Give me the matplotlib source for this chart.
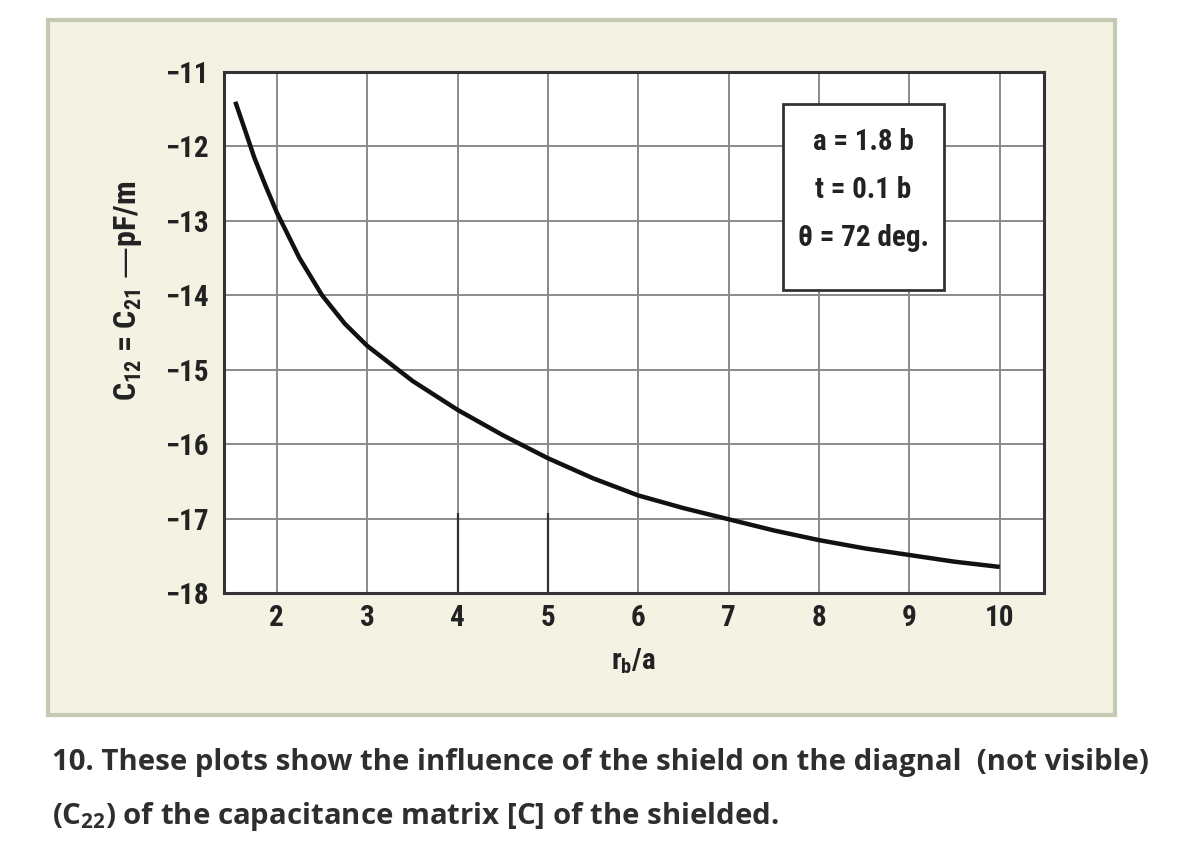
import matplotlib
matplotlib.use('Agg')
import matplotlib.pyplot as plt
from matplotlib.patches import Rectangle

# values
rb_over_a = [1.54, 1.65, 1.75, 1.875, 2.0, 2.25, 2.5, 2.75, 3.0, 3.5, 4.0, 4.5, 5.0, 5.5,
             6.0, 6.5, 7.0, 7.5, 8.0, 8.5, 9.0, 9.5, 10.0]
c12 = [-11.40, -11.79, -12.15, -12.53, -12.89, -13.50, -14.00, -14.38, -14.68, -15.15,
       -15.54, -15.88, -16.19, -16.46, -16.69, -16.86, -17.01, -17.16, -17.29, -17.40,
       -17.49, -17.58, -17.65]

x_ticks = [2, 3, 4, 5, 6, 7, 8, 9, 10]
y_ticks = [-18, -17, -16, -15, -14, -13, -12, -11]
dark_marks = [4, 5]

params = ['a = 1.8 b', 't = 0.1 b', '\u03b8 = 72 deg.']
caption = ['10. These plots show the influence of the shield on the diagnal  (not visible)',
           r'($\mathregular{C_{22}}$) of the capacitance matrix [C] of the shielded.']

plt.rcParams['font.family'] = ['Roboto Condensed', 'Liberation Sans Narrow', 'Roboto', 'DejaVu Sans']
plt.rcParams['mathtext.default'] = 'regular'

fig = plt.figure(figsize=(11.84, 8.64), dpi=100)
fig.patch.set_facecolor('white')

# beige panel behind the chart
fig.patches.append(Rectangle((0.0405, 0.1725), 0.9015, 0.8045, transform=fig.transFigure,
                             facecolor='#f3f2e3', edgecolor='#c3c9b3', linewidth=3, zorder=-5))

ax = fig.add_axes([0.1892, 0.3137, 0.6926, 0.603])
ax.set_facecolor('white')
ax.plot(rb_over_a, c12, color='#111111', linewidth=3.2, solid_capstyle='butt',
        solid_joinstyle='round', zorder=3)
ax.vlines(dark_marks, -18, -16.93, color='#333333', linewidth=1.6, zorder=2)

ax.set_xlim(1.415, 10.49)
ax.set_ylim(-18, -11)
ax.set_xticks(x_ticks)
ax.set_yticks(y_ticks)
ax.set_yticklabels(['\u2212%d' % abs(v) for v in y_ticks])
ax.grid(True, color='#8a8a8a', linewidth=1.4)
ax.set_axisbelow(True)
for s in ax.spines.values():
    s.set_color('#333333')
    s.set_linewidth(2.2)
ax.tick_params(length=0, labelsize=21, colors='#222222')
ax.tick_params(axis='y', pad=11)
ax.tick_params(axis='x', pad=8)
for lab in ax.get_xticklabels() + ax.get_yticklabels():
    lab.set_fontweight('semibold')

ax.set_xlabel(r'r$_\mathregular{b}$/a', fontsize=21, color='#222222', labelpad=10,
              fontweight='semibold')
ax.set_ylabel('C$_\\mathregular{12}$ = C$_\\mathregular{21}$ \u2014pF/m', fontsize=23,
              color='#222222', fontweight='semibold')
ax.yaxis.set_label_coords(-0.097, 0.58)

# parameter box
ax.add_patch(Rectangle((7.60, -13.93), 1.78, 2.50, facecolor='white', edgecolor='#333333',
                       linewidth=2, zorder=4))
for i, t in enumerate(params):
    ax.text(8.49, -11.94 - 0.645 * i, t, ha='center', va='center', fontsize=21,
            color='#222222', zorder=5, fontweight='semibold')

for i, t in enumerate(caption):
    fig.text(0.044, 0.109 - 0.0625 * i, t, ha='left', va='baseline', fontsize=21.2,
             fontweight='bold', color='#2e2e2e', family=['Open Sans', 'DejaVu Sans'])

fig.savefig('out.png', dpi=100)
